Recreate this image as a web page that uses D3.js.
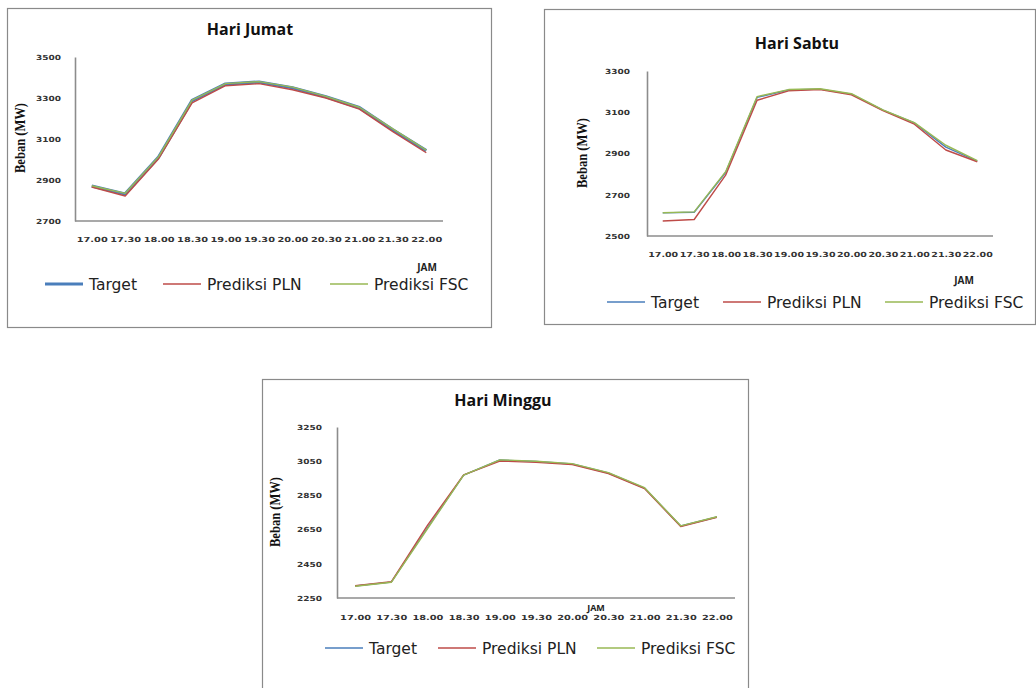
<!DOCTYPE html>
<html>
<head>
<meta charset="utf-8">
<script src="https://cdn.jsdelivr.net/npm/d3@7"></script>
<style>
  html, body { margin: 0; padding: 0; background: #ffffff; }
  svg { display: block; }
</style>
</head>
<body>
<svg id="chart" width="1036" height="688"></svg>
<script>
// Half-hourly time slots (JAM)
const jam = ["17.00", "17.30", "18.00", "18.30", "19.00", "19.30", "20.00", "20.30", "21.00", "21.30", "22.00"];

// Friday load (MW)
const jumatTarget = [2871, 2832, 3012, 3288, 3368, 3378, 3350, 3306, 3253, 3145, 3043];
const jumatPLN    = [2866, 2822, 3004, 3276, 3360, 3370, 3340, 3300, 3246, 3136, 3033];
const jumatFSC    = [2872, 2835, 3014, 3290, 3370, 3380, 3353, 3308, 3255, 3149, 3046];
const jumatTicks  = [2700, 2900, 3100, 3300, 3500];

// Saturday load (MW)
const sabtuTarget = [2612, 2615, 2808, 3172, 3208, 3212, 3188, 3110, 3048, 2931, 2863];
const sabtuPLN    = [2573, 2580, 2795, 3158, 3204, 3210, 3184, 3108, 3042, 2917, 2860];
const sabtuFSC    = [2613, 2617, 2812, 3176, 3210, 3214, 3190, 3112, 3050, 2940, 2866];
const sabtuTicks  = [2500, 2700, 2900, 3100, 3300];

// Sunday load (MW)
const mingguTarget = [2320, 2343, 2660, 2969, 3057, 3048, 3034, 2981, 2893, 2671, 2724];
const mingguPLN    = [2322, 2345, 2675, 2970, 3051, 3043, 3030, 2978, 2890, 2668, 2722];
const mingguFSC    = [2319, 2342, 2655, 2968, 3058, 3050, 3036, 2983, 2895, 2672, 2725];
const mingguTicks  = [2250, 2450, 2650, 2850, 3050, 3250];

const seriesNames = ["Target", "Prediksi PLN", "Prediksi FSC"];
const seriesColors = ["#4a7ebb", "#be4b48", "#98b954"];

const svg = d3.select("#chart");

function drawPanel(opt) {
  const g = svg.append("g");

  // outer frame
  g.append("rect")
    .attr("x", opt.frame[0]).attr("y", opt.frame[1])
    .attr("width", opt.frame[2]).attr("height", opt.frame[3])
    .attr("fill", "#fff").attr("stroke", "#8a8a8a").attr("stroke-width", 1.2);

  const p = opt.plot; // left, right, top, bottom
  const x = d3.scalePoint().domain(jam).range([p.left, p.right]).padding(0.5);
  const y = d3.scaleLinear().domain(d3.extent(opt.ticks)).range([p.bottom, p.top]);

  // title
  g.append("text")
    .attr("x", opt.titlePos[0]).attr("y", opt.titlePos[1])
    .attr("text-anchor", "middle")
    .attr("font-family", "'Open Sans', sans-serif")
    .attr("font-weight", "bold").attr("font-size", 16)
    .attr("fill", "#111")
    .text(opt.title);

  // y axis
  const yAxis = d3.axisLeft(y).tickValues(opt.ticks).tickSize(0).tickSizeOuter(0)
    .tickPadding(opt.yPad).tickFormat(d3.format("d"));
  const ya = g.append("g").attr("transform", `translate(${p.left},0)`).call(yAxis);
  ya.select(".domain").attr("stroke", "#8c8c8c").attr("stroke-width", 1.6);
  ya.selectAll("text")
    .attr("font-family", "'DejaVu Sans', sans-serif").attr("font-weight", "bold")
    .attr("font-size", 7).attr("fill", "#333")
    .attr("textLength", 25).attr("lengthAdjust", "spacingAndGlyphs");

  // x axis
  const xAxis = d3.axisBottom(x).tickSize(0).tickSizeOuter(0).tickPadding(opt.xPad);
  const xa = g.append("g").attr("transform", `translate(0,${p.bottom})`).call(xAxis);
  xa.select(".domain").attr("d", `M${p.left},0H${p.right}`)
    .attr("stroke", "#8c8c8c").attr("stroke-width", 1.6);
  xa.selectAll("text")
    .attr("font-family", "'DejaVu Sans', sans-serif").attr("font-weight", "bold")
    .attr("font-size", 7).attr("fill", "#333")
    .attr("textLength", opt.xLabelLen).attr("lengthAdjust", "spacingAndGlyphs");

  // y axis title
  g.append("text")
    .attr("transform", `translate(${opt.yTitlePos[0]},${opt.yTitlePos[1]}) rotate(-90)`)
    .attr("text-anchor", "middle")
    .attr("font-family", "'Liberation Serif', serif").attr("font-weight", "bold")
    .attr("font-size", 14).attr("fill", "#111")
    .attr("textLength", 70).attr("lengthAdjust", "spacingAndGlyphs")
    .text("Beban (MW)");

  // x axis title
  g.append("text")
    .attr("x", opt.jamPos[0]).attr("y", opt.jamPos[1])
    .attr("text-anchor", "middle")
    .attr("font-family", "'Open Sans', sans-serif").attr("font-weight", "bold")
    .attr("font-size", opt.jamSize).attr("fill", "#222")
    .text("JAM");

  // series lines
  const line = d3.line().x((d, i) => x(jam[i])).y(d => y(d));
  opt.series.forEach((vals, k) => {
    g.append("path")
      .datum(vals)
      .attr("d", line)
      .attr("fill", "none")
      .attr("stroke", seriesColors[k])
      .attr("stroke-width", k === 0 ? opt.targetWidth : 1.4)
      .attr("stroke-linejoin", "round");
  });

  // legend
  const lg = g.append("g");
  opt.legendX.forEach((lx, k) => {
    lg.append("line")
      .attr("x1", lx).attr("x2", lx + 38)
      .attr("y1", opt.legendY).attr("y2", opt.legendY)
      .attr("stroke", seriesColors[k])
      .attr("stroke-width", k === 0 ? opt.targetWidth : 1.4);
    lg.append("text")
      .attr("x", lx + 44).attr("y", opt.legendY + 5.5)
      .attr("font-family", "'DejaVu Sans', sans-serif")
      .attr("font-size", 15.5).attr("fill", "#222")
      .text(seriesNames[k]);
  });
}

drawPanel({
  title: "Hari Jumat",
  frame: [7.5, 8.5, 484, 319],
  plot: { left: 75, right: 443, top: 57, bottom: 221 },
  ticks: jumatTicks,
  series: [jumatTarget, jumatPLN, jumatFSC],
  titlePos: [250, 35],
  yTitlePos: [25, 138],
  jamPos: [427, 271], jamSize: 10,
  yPad: 14, xPad: 16, xLabelLen: 31,
  legendY: 284, legendX: [45, 163, 330],
  targetWidth: 3.2
});

drawPanel({
  title: "Hari Sabtu",
  frame: [544.5, 9.5, 491, 315],
  plot: { left: 647, right: 993, top: 71, bottom: 236 },
  ticks: sabtuTicks,
  series: [sabtuTarget, sabtuPLN, sabtuFSC],
  titlePos: [797, 49],
  yTitlePos: [587, 153],
  jamPos: [964, 284], jamSize: 10,
  yPad: 17, xPad: 16, xLabelLen: 30,
  legendY: 302, legendX: [607, 723, 885],
  targetWidth: 1.4
});

drawPanel({
  title: "Hari Minggu",
  frame: [262.5, 379.5, 486, 330],
  plot: { left: 337, right: 735, top: 427, bottom: 598 },
  ticks: mingguTicks,
  series: [mingguTarget, mingguPLN, mingguFSC],
  titlePos: [503, 406],
  yTitlePos: [280, 512],
  jamPos: [596, 611], jamSize: 9,
  yPad: 15, xPad: 17, xLabelLen: 31,
  legendY: 648, legendX: [325, 438, 597],
  targetWidth: 1.4
});
</script>
</body>
</html>
